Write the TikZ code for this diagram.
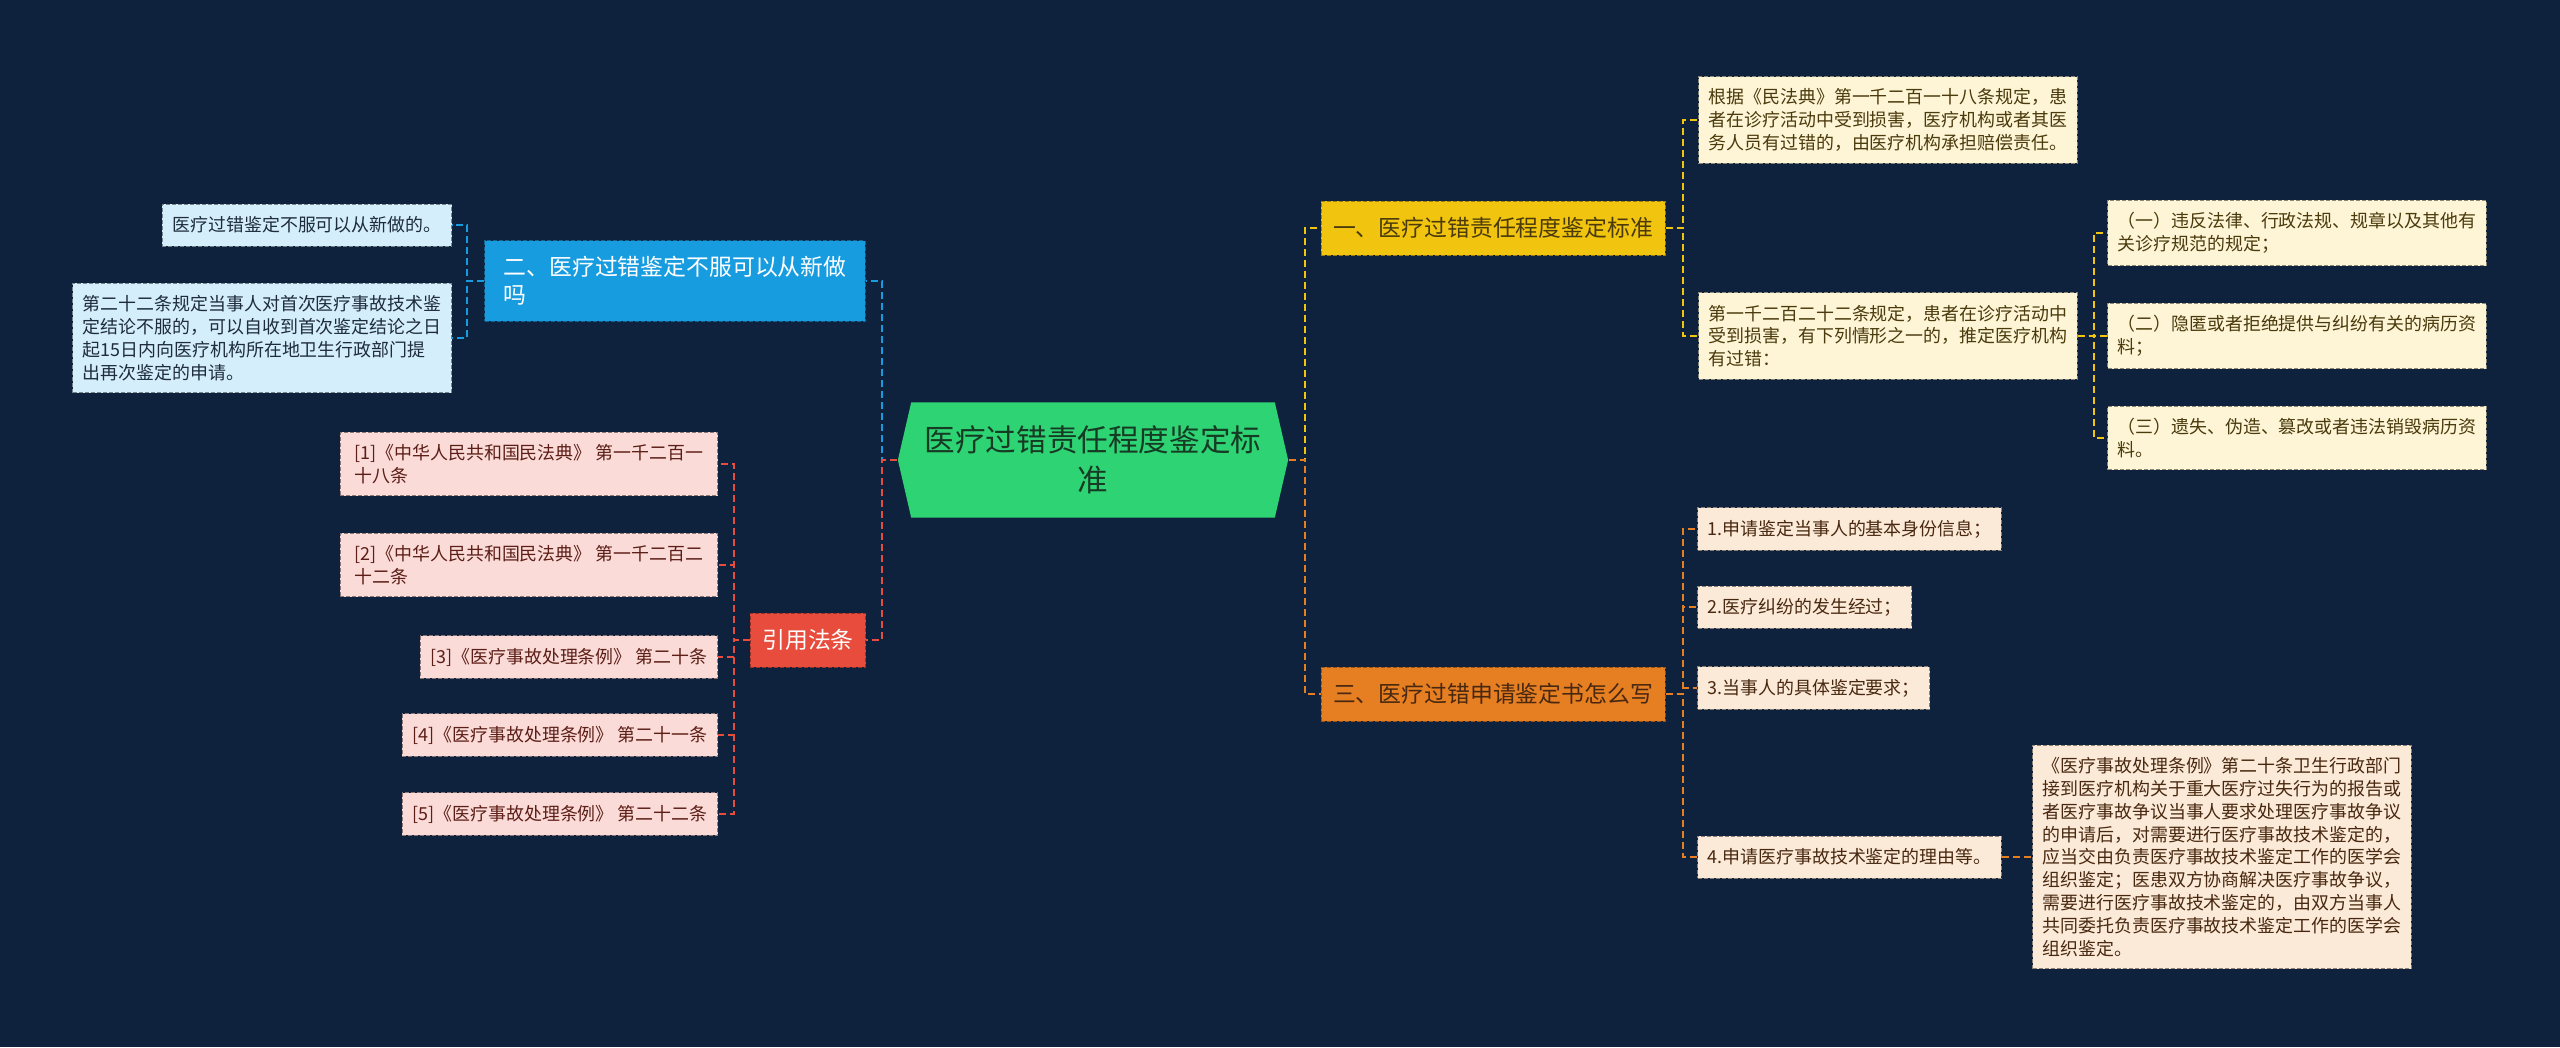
\documentclass[tikz,border=0pt]{standalone}
\usepackage{fontspec}
\setmainfont{Noto Sans CJK SC}
\usetikzlibrary{shapes.symbols}
\definecolor{bgnavy}{RGB}{14,34,62}
\definecolor{rootgreen}{RGB}{46,211,115}
\definecolor{roottext}{RGB}{22,58,36}
\definecolor{bluebr}{RGB}{24,156,224}
\definecolor{blueleaf}{RGB}{213,238,251}
\definecolor{bluetext}{RGB}{30,44,60}
\definecolor{yellowbr}{RGB}{241,196,15}
\definecolor{yellowleaf}{RGB}{253,245,214}
\definecolor{yellowtext}{RGB}{74,58,12}
\definecolor{orangebr}{RGB}{230,126,34}
\definecolor{orangeleaf}{RGB}{252,234,216}
\definecolor{orangetext}{RGB}{72,40,16}
\definecolor{redbr}{RGB}{231,76,60}
\definecolor{redleaf}{RGB}{250,219,216}
\definecolor{redtext}{RGB}{92,30,22}

\begin{document}
\begin{tikzpicture}[x=0.01cm, y=-0.01cm,
  rootnode/.style={shape=signal, signal to=west and east, signal pointer angle=154,
    fill=rootgreen, text=roottext, align=center, minimum width=3.9cm, minimum height=1.15cm,
    font=\fontsize{8.7pt}{11.4pt}\selectfont},
  branchbox/.style 2 args={draw=#1!65!black, dash pattern=on 0.04cm off 0.02cm, line width=0.01cm,
    fill=#1, text=#2, align=left, inner xsep=0.12cm, inner ysep=0.155cm, minimum height=0.54cm,
    font=\fontsize{6.5pt}{8pt}\selectfont},
  leafbox/.style 2 args={draw=#1!55!black, dash pattern=on 0.04cm off 0.02cm, line width=0.01cm,
    fill=#1, text=#2, align=left, inner xsep=0.1cm, inner ysep=0.12cm, minimum height=0.42cm,
    font=\fontsize{5.1pt}{6.5pt}\selectfont},
  link/.style={draw=#1, dash pattern=on 0.07cm off 0.04cm, line width=0.02cm}]
  \useasboundingbox (0,0) rectangle (2560,1047);
  \fill[bgnavy] (0,0) rectangle (2560,1047);

  \node[rootnode] (root) at (1093,460) {医疗过错责任程度鉴定标\\准};
  \node[branchbox={yellowbr}{yellowtext}] (b1) at (1493,228) {一、医疗过错责任程度鉴定标准};
  \node[branchbox={bluebr}{white}, minimum width=3.8cm] (b2) at (675,281) {二、医疗过错鉴定不服可以从新做\\吗};
  \node[branchbox={orangebr}{orangetext}] (b3) at (1493,694) {三、医疗过错申请鉴定书怎么写};
  \node[branchbox={redbr}{white}] (cite) at (808,640) {引用法条};

  \node[leafbox={yellowleaf}{yellowtext}, anchor=west] (l11) at (1698,120) {根据《民法典》第一千二百一十八条规定，患\\者在诊疗活动中受到损害，医疗机构或者其医\\务人员有过错的，由医疗机构承担赔偿责任。};
  \node[leafbox={yellowleaf}{yellowtext}, anchor=west] (l12) at (1698,336) {第一千二百二十二条规定，患者在诊疗活动中\\受到损害，有下列情形之一的，推定医疗机构\\有过错：};
  \node[leafbox={yellowleaf}{yellowtext}, anchor=west] (l121) at (2107,233) {（一）违反法律、行政法规、规章以及其他有\\关诊疗规范的规定；};
  \node[leafbox={yellowleaf}{yellowtext}, anchor=west] (l122) at (2107,336) {（二）隐匿或者拒绝提供与纠纷有关的病历资\\料；};
  \node[leafbox={yellowleaf}{yellowtext}, anchor=west] (l123) at (2107,438) {（三）遗失、伪造、篡改或者违法销毁病历资\\料。};

  \node[leafbox={blueleaf}{bluetext}, anchor=east] (l21) at (452,225) {医疗过错鉴定不服可以从新做的。};
  \node[leafbox={blueleaf}{bluetext}, anchor=east] (l22) at (452,338) {第二十二条规定当事人对首次医疗事故技术鉴\\定结论不服的，可以自收到首次鉴定结论之日\\起15日内向医疗机构所在地卫生行政部门提\\出再次鉴定的申请。};

  \node[leafbox={orangeleaf}{orangetext}, anchor=west] (l31) at (1697,529) {1.申请鉴定当事人的基本身份信息；};
  \node[leafbox={orangeleaf}{orangetext}, anchor=west] (l32) at (1697,607) {2.医疗纠纷的发生经过；};
  \node[leafbox={orangeleaf}{orangetext}, anchor=west] (l33) at (1697,688) {3.当事人的具体鉴定要求；};
  \node[leafbox={orangeleaf}{orangetext}, anchor=west] (l34) at (1697,857) {4.申请医疗事故技术鉴定的理由等。};
  \node[leafbox={orangeleaf}{orangetext}, anchor=west] (l341) at (2032,857) {《医疗事故处理条例》第二十条卫生行政部门\\接到医疗机构关于重大医疗过失行为的报告或\\者医疗事故争议当事人要求处理医疗事故争议\\的申请后，对需要进行医疗事故技术鉴定的，\\应当交由负责医疗事故技术鉴定工作的医学会\\组织鉴定；医患双方协商解决医疗事故争议，\\需要进行医疗事故技术鉴定的，由双方当事人\\共同委托负责医疗事故技术鉴定工作的医学会\\组织鉴定。};

  \node[leafbox={redleaf}{redtext}, anchor=east, minimum width=3.77cm] (r1) at (718,464) {[1]《中华人民共和国民法典》 第一千二百一\\十八条};
  \node[leafbox={redleaf}{redtext}, anchor=east, minimum width=3.77cm] (r2) at (718,565) {[2]《中华人民共和国民法典》 第一千二百二\\十二条};
  \node[leafbox={redleaf}{redtext}, anchor=east] (r3) at (718,657) {[3]《医疗事故处理条例》 第二十条};
  \node[leafbox={redleaf}{redtext}, anchor=east] (r4) at (718,735) {[4]《医疗事故处理条例》 第二十一条};
  \node[leafbox={redleaf}{redtext}, anchor=east] (r5) at (718,814) {[5]《医疗事故处理条例》 第二十二条};

  \draw[link=bluebr] (root.west) -- ++(-15,0) |- (b2.east);
  \draw[link=redbr] (root.west) -- ++(-15,0) |- (cite.east);
  \draw[link=yellowbr] (root.east) -- ++(16,0) |- (b1.west);
  \draw[link=orangebr] (root.east) -- ++(16,0) |- (b3.west);

  \draw[link=yellowbr] (b1.east) -- ++(17,0) |- (l11.west);
  \draw[link=yellowbr] (b1.east) -- ++(17,0) |- (l12.west);
  \draw[link=yellowbr] (l12.east) -- ++(16,0) |- (l121.west);
  \draw[link=yellowbr] (l12.east) -- ++(16,0) |- (l122.west);
  \draw[link=yellowbr] (l12.east) -- ++(16,0) |- (l123.west);

  \draw[link=bluebr] (b2.west) -- ++(-17,0) |- (l21.east);
  \draw[link=bluebr] (b2.west) -- ++(-17,0) |- (l22.east);

  \draw[link=orangebr] (b3.east) -- ++(17,0) |- (l31.west);
  \draw[link=orangebr] (b3.east) -- ++(17,0) |- (l32.west);
  \draw[link=orangebr] (b3.east) -- ++(17,0) |- (l33.west);
  \draw[link=orangebr] (b3.east) -- ++(17,0) |- (l34.west);
  \draw[link=orangebr] (l34.east) -- (l341.west);

  \draw[link=redbr] (cite.west) -- ++(-16,0) |- (r1.east);
  \draw[link=redbr] (cite.west) -- ++(-16,0) |- (r2.east);
  \draw[link=redbr] (cite.west) -- ++(-16,0) |- (r3.east);
  \draw[link=redbr] (cite.west) -- ++(-16,0) |- (r4.east);
  \draw[link=redbr] (cite.west) -- ++(-16,0) |- (r5.east);
\end{tikzpicture}
\end{document}
